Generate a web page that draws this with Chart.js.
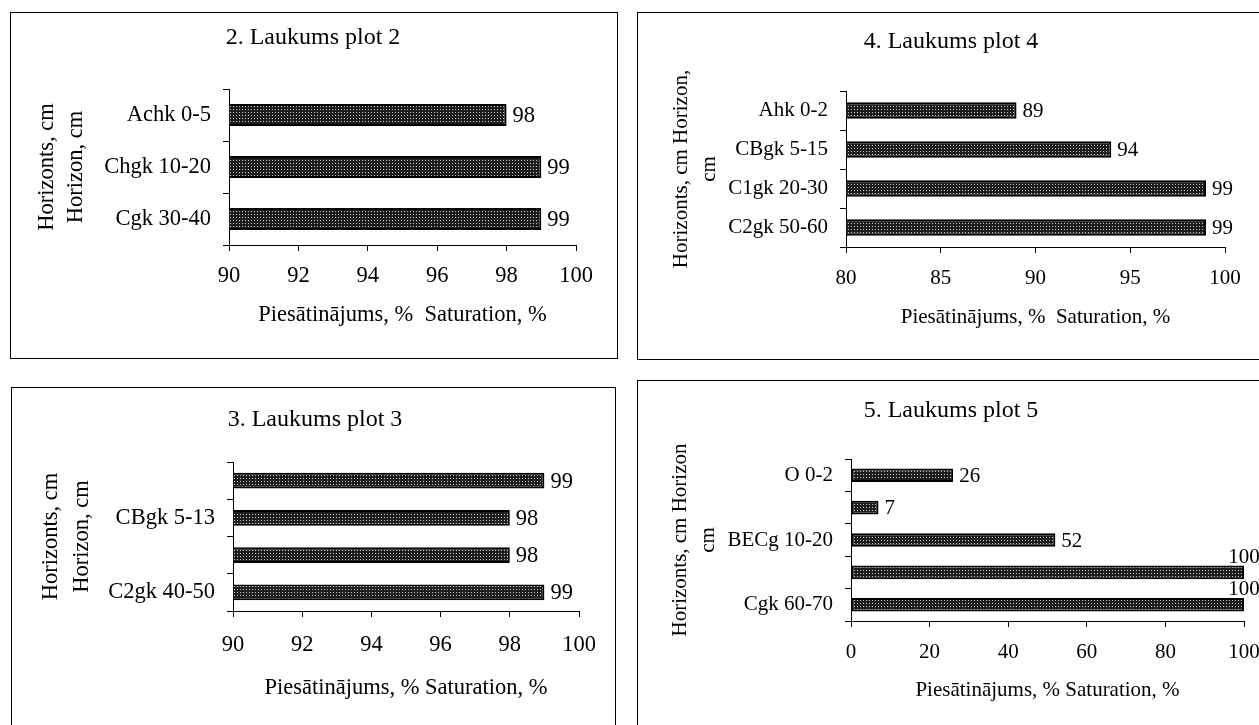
<!DOCTYPE html>
<html>
<head>
<meta charset="utf-8">
<script src="https://cdn.jsdelivr.net/npm/chart.js@4.4.0/dist/chart.umd.min.js"></script>
<style>
  html, body { margin: 0; padding: 0; background: #fff; overflow: hidden; }
  body { width: 1259px; height: 725px; position: relative; }
  canvas { position: absolute; }
  .frame { position: absolute; border: 1px solid #000; box-sizing: border-box; pointer-events: none; }
</style>
</head>
<body>
<canvas id="plot2" width="607" height="346" style="left:10px;top:12px;width:607px;height:346px"></canvas>
<canvas id="plot4" width="640" height="347" style="left:637px;top:12px;width:640px;height:347px"></canvas>
<canvas id="plot3" width="604" height="338" style="left:11px;top:387px;width:604px;height:338px"></canvas>
<canvas id="plot5" width="640" height="345" style="left:637px;top:380px;width:640px;height:345px"></canvas>
<div class="frame" style="left:10px;top:12px;width:608px;height:347px"></div>
<div class="frame" style="left:637px;top:12px;width:700px;height:348px"></div>
<div class="frame" style="left:11px;top:387px;width:605px;height:400px"></div>
<div class="frame" style="left:637px;top:380px;width:700px;height:400px"></div>
<script>
// Dados: 2. laukums
var plot2Labels = ["Achk 0-5", "Chgk 10-20", "Cgk 30-40"];
var plot2Values = [98, 99, 99];
var plot2Axis = [90, 100, 2]; // min, max, step

// Dados: 4. laukums
var plot4Labels = ["Ahk 0-2", "CBgk 5-15", "C1gk 20-30", "C2gk 50-60"];
var plot4Values = [89, 94, 99, 99];
var plot4Axis = [80, 100, 5];

// Dados: 3. laukums
var plot3Labels = ["", "CBgk 5-13", "", "C2gk 40-50"];
var plot3Values = [99, 98, 98, 99];
var plot3Axis = [90, 100, 2];

// Dados: 5. laukums
var plot5Labels = ["O 0-2", "", "BECg 10-20", "", "Cgk 60-70"];
var plot5Values = [26, 7, 52, 100, 100];
var plot5Axis = [0, 100, 20];

Chart.defaults.font.family = "'Liberation Serif', 'Times New Roman', serif";
Chart.defaults.color = "#000";

// dotted dark fill like the original bars
var tile = document.createElement("canvas");
tile.width = 3;
tile.height = 3;
var tctx = tile.getContext("2d");
tctx.fillStyle = "#1e1e1e";
tctx.fillRect(0, 0, 3, 3);
tctx.fillStyle = "#c8c8c8";
tctx.fillRect(1, 1, 1, 1);
var barFill = tctx.createPattern(tile, "repeat");

// value next to each bar (above the bar when it reaches the end of the axis)
var barValues = {
  id: "barValues",
  afterDatasetsDraw: function (chart, args, opts) {
    var ctx = chart.ctx;
    var xScale = chart.scales.x;
    ctx.save();
    ctx.font = opts.size + "px 'Liberation Serif', serif";
    ctx.fillStyle = "#000";
    chart.getDatasetMeta(0).data.forEach(function (bar, i) {
      var v = chart.data.datasets[0].data[i];
      if (v >= xScale.max) {
        ctx.textAlign = "center";
        ctx.textBaseline = "bottom";
        ctx.fillText(v, bar.x, bar.y - bar.height / 2 + 2);
      } else {
        ctx.textAlign = "left";
        ctx.textBaseline = "middle";
        ctx.fillText(v, bar.x + 6, bar.y + 1);
      }
    });
    ctx.restore();
  }
};

function drawPlot(id, labels, values, axis, title, yTitle, xTitle, box) {
  new Chart(document.getElementById(id).getContext("2d"), {
    type: "bar",
    data: {
      labels: labels,
      datasets: [{
        data: values,
        backgroundColor: barFill,
        borderColor: "#000",
        borderWidth: 2,
        borderSkipped: false,
        barPercentage: 0.42,
        categoryPercentage: 1
      }]
    },
    plugins: [barValues],
    options: {
      indexAxis: "y",
      responsive: false,
      animation: false,
      layout: { padding: { left: box.padL, right: box.padR, top: 0, bottom: 0 } },
      plugins: {
        legend: { display: false },
        tooltip: { enabled: false },
        barValues: { size: box.text },
        title: {
          display: true,
          text: title,
          color: "#000",
          font: { size: 24, weight: "normal" },
          padding: { top: box.titleTop, bottom: box.titleBottom }
        }
      },
      scales: {
        x: {
          min: axis[0],
          max: axis[1],
          afterFit: function (s) { s.height = box.xHeight; },
          ticks: { stepSize: axis[2], padding: box.xTickPad, font: { size: box.text }, maxRotation: 0 },
          grid: { drawOnChartArea: false, drawTicks: true, tickLength: 6, color: "#000" },
          border: { display: true, color: "#000", width: 1 },
          title: {
            display: true,
            text: xTitle,
            font: { size: box.text },
            padding: { top: 0, bottom: box.xTitlePad }
          }
        },
        y: {
          afterFit: function (s) { s.width = box.yWidth; },
          ticks: { padding: 12, font: { size: box.text } },
          grid: { offset: true, drawOnChartArea: false, drawTicks: true, tickLength: 6, color: "#000" },
          border: { display: true, color: "#000", width: 1 },
          title: {
            display: true,
            text: yTitle,
            font: { size: box.text, lineHeight: box.yLine },
            padding: { top: box.yTitlePad, bottom: 0 }
          }
        }
      }
    }
  });
}

drawPlot("plot2", plot2Labels, plot2Values, plot2Axis, "2. Laukums plot 2",
  ["Horizonts, cm", "Horizon, cm"], "Piesātinājums, %  Saturation, %",
  { text: 22.5, padL: 40, padR: 41, titleTop: 11.6, titleBottom: 36.6, yWidth: 179, yTitlePad: -17, yLine: "29px",
    xHeight: 113, xTitlePad: 29.5, xTickPad: 11.5 });

drawPlot("plot4", plot4Labels, plot4Values, plot4Axis, "4. Laukums plot 4",
  ["Horizonts, cm Horizon,", "cm"], "Piesātinājums, %  Saturation, %",
  { text: 21, padL: 40, padR: 52, titleTop: 15.6, titleBottom: 34.6, yWidth: 169, yTitlePad: -10, yLine: "28px",
    xHeight: 112, xTitlePad: 29.4, xTickPad: 12.4 });

drawPlot("plot3", plot3Labels, plot3Values, plot3Axis, "3. Laukums plot 3",
  ["Horizonts, cm", "Horizon, cm"], "Piesātinājums, % Saturation, %",
  { text: 22.5, padL: 40, padR: 36, titleTop: 18.1, titleBottom: 28.1, yWidth: 182, yTitlePad: -15.2, yLine: "31px",
    xHeight: 114, xTitlePad: 23.5, xTickPad: 14.5 });

drawPlot("plot5", plot5Labels, plot5Values, plot5Axis, "5. Laukums plot 5",
  ["Horizonts, cm Horizon", "cm"], "Piesātinājums, % Saturation, %",
  { text: 21, padL: 21, padR: 33, titleTop: 16.6, titleBottom: 33.6, yWidth: 193, yTitlePad: 8, yLine: "28px",
    xHeight: 104, xTitlePad: 22.4, xTickPad: 12.4 });
</script>
</body>
</html>
